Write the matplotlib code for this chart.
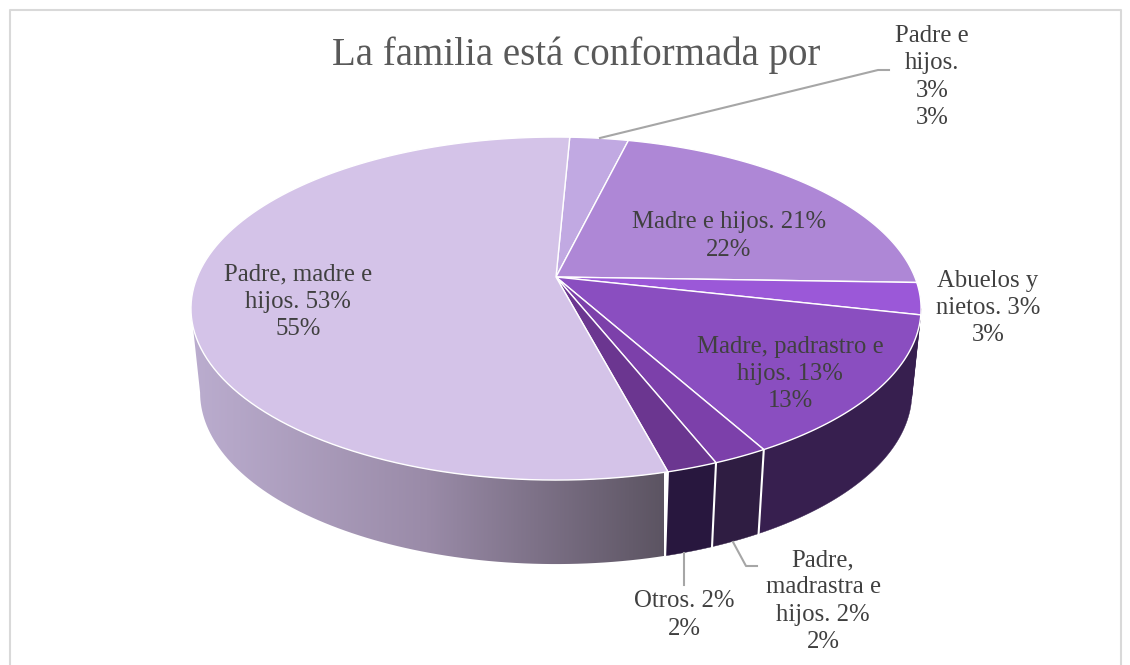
import numpy as np
import matplotlib
matplotlib.use("Agg")
import matplotlib.pyplot as plt
from matplotlib.patches import Polygon

# porcentajes, en sentido horario desde arriba
slices = ["Padre e hijos", "Madre e hijos", "Abuelos y nietos", "Madre, padrastro e hijos",
          "Padre, madrastra e hijos", "Otros", "Padre, madre e hijos"]
values = [3.1, 21.7, 3.0, 13.4, 2.05, 1.9, 54.85]
top_colors = ["#C1A9E2", "#AE87D6", "#9B58D8", "#8A4EC0", "#7C40AA", "#6B3690", "#D4C3E8"]
side_colors = ["#371F4F", "#371F4F", "#371F4F", "#371F4F", "#2F1D42", "#28173E", None]

title = "La familia está conformada por"
labels = ["Padre e\nhijos.\n3%\n3%", "Madre e hijos. 21%\n22%", "Abuelos y\nnietos. 3%\n3%",
          "Madre, padrastro e\nhijos. 13%\n13%", "Padre,\nmadrastra e\nhijos. 2%\n2%",
          "Otros. 2%\n2%", "Padre, madre e\nhijos. 53%\n55%"]
label_pos = [(932, 77), (729, 236), (988, 308), (790, 374), (823, 601), (684, 615), (298, 302)]

plt.rcParams["font.family"] = ["Liberation Serif", "DejaVu Serif"]

# proyeccion del disco (pixeles de la figura)
CX, CY = 556, 277
A, B, K = 358.8, 165.7, 0.184
DEPTH, SHRINK = 84, 0.975
START = 2.6
RIGHT_TAN, LEFT_TAN = 100.6, 259.4  # angulos del contorno lateral


def proj(theta, lower=False):
    t = np.radians(theta)
    u, v = np.sin(t), np.cos(t)
    x = A * u / (1 + K * v)
    y = CY - B * v / (1 + K * v)
    if lower:
        return CX + SHRINK * x, y + DEPTH
    return CX + x, y


def wall_poly(t0, t1):
    th = np.linspace(t0, t1, 80)
    x0, y0 = proj(th)
    x1, y1 = proj(th[::-1], lower=True)
    return np.column_stack([np.r_[x0, x1], np.r_[y0, y1]])


fig = plt.figure(figsize=(11.3, 6.65), dpi=100)
ax = fig.add_axes([0, 0, 1, 1])
ax.axis("off")

edges = START + np.cumsum([0] + values) * 3.6

# pared lateral: primero el degradado de la rebanada grande
grad = np.linspace(0, 1, 256).reshape(1, -1)
cmap = matplotlib.colors.LinearSegmentedColormap.from_list("side", ["#BBADCF", "#9A8BA8", "#5C5462"])
im = ax.imshow(grad, extent=(190, 664, 575, 300), cmap=cmap, aspect="auto", zorder=1)
clip = Polygon(wall_poly(edges[6], LEFT_TAN), transform=ax.transData, fc="none", ec="none")
ax.add_patch(clip)
im.set_clip_path(clip)

for i in range(2, 6):
    t0 = max(edges[i], RIGHT_TAN)
    ax.add_patch(Polygon(wall_poly(t0, edges[i + 1]), fc=side_colors[i], ec=side_colors[i], lw=0.3, zorder=2))

# separadores blancos de la pared
for t in edges[4:7]:
    x0, y0 = proj(t)
    x1, y1 = proj(t, lower=True)
    ax.plot([x0, x1], [y0, y1], color="white", lw=1.5, zorder=2.5)

# cara superior
for i in range(len(values)):
    th = np.linspace(edges[i], edges[i + 1], 120)
    x, y = proj(th)
    pts = np.column_stack([np.r_[CX, x], np.r_[CY, y]])
    ax.add_patch(Polygon(pts, fc=top_colors[i], ec="white", lw=1.0, joinstyle="round", zorder=3))

# lineas guia
leader = "#A6A6A6"
ax.plot([600, 878, 889], [138, 70, 70], color=leader, lw=1.5, zorder=4)
ax.plot([733, 746, 757], [542, 566, 566], color=leader, lw=1.5, zorder=4)
ax.plot([684, 684], [553, 585], color=leader, lw=1.5, zorder=4)

for s, p in zip(labels, label_pos):
    ax.text(p[0], p[1], s, ha="center", va="center", fontsize=17.8, color="#404040",
            linespacing=1.3, zorder=5)

ax.text(576, 55, title, ha="center", va="center", fontsize=28, color="#595959", zorder=5)

# marco
ax.plot([9.5, 9.5, 1121, 1121], [665, 10, 10, 665], color="#D9D9D9", lw=1.5, zorder=0)

ax.set_xlim(0, 1130)
ax.set_ylim(665, 0)
fig.savefig("out.png", dpi=100)
